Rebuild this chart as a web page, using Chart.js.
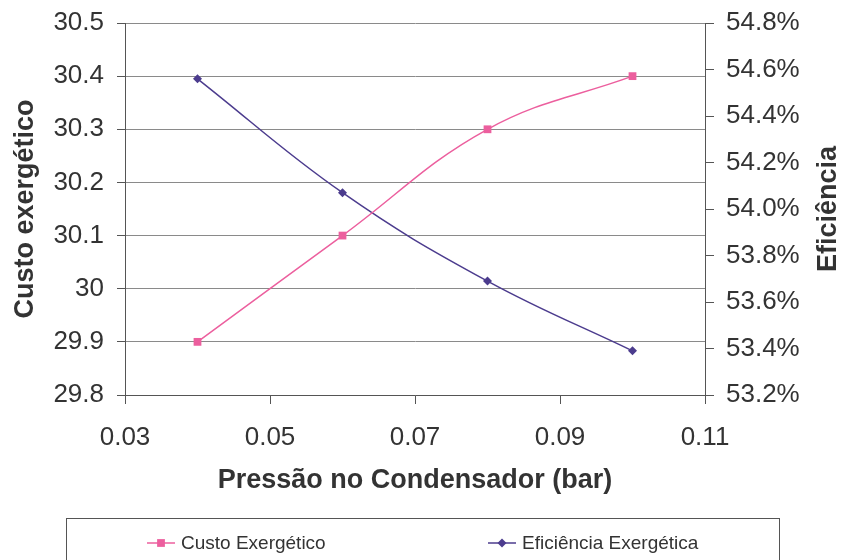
<!DOCTYPE html>
<html>
<head>
<meta charset="utf-8">
<script src="https://cdn.jsdelivr.net/npm/chart.js@4/dist/chart.umd.min.js"></script>
<style>
  html, body { margin: 0; padding: 0; background: #fff; }
  #wrap { width: 842px; height: 560px; position: relative; }
</style>
</head>
<body>
<div id="wrap"><canvas id="c" width="842" height="560"></canvas></div>
<script>
// ---- data ----
const pressure = [0.04, 0.06, 0.08, 0.10];
const custoExergetico = [29.9, 30.1, 30.3, 30.4];
const eficienciaExergetica = [54.56, 54.07, 53.69, 53.39]; // percent
const seriesLabels = ['Custo Exergético', 'Eficiência Exergética'];
const xTitle = 'Pressão no Condensador (bar)';
const yLeftTitle = 'Custo exergético';
const yRightTitle = 'Eficiência';

const PINK = '#ec5f9e';
const PURPLE = '#4c3c8e';
const TEXT = '#333333';
const AXIS = '#555555';
const FONT = "'Liberation Sans', Arial, sans-serif";

const toPts = (ys) => ys.map((y, i) => ({ x: pressure[i], y }));

const extras = {
  id: 'extras',
  afterDraw(chart) {
    const ctx = chart.ctx;
    const area = chart.chartArea;
    ctx.save();
    // right axis title (reads bottom-to-top)
    ctx.fillStyle = TEXT;
    ctx.font = "bold 27px " + FONT;
    ctx.textAlign = 'center';
    ctx.textBaseline = 'middle';
    ctx.translate(829, (area.top + area.bottom) / 2);
    ctx.rotate(-Math.PI / 2);
    ctx.fillText(yRightTitle, 0, 0);
    ctx.restore();

    // legend box
    ctx.save();
    ctx.strokeStyle = AXIS;
    ctx.lineWidth = 1;
    ctx.strokeRect(66.5, 518.5, 713, 50);
    const items = [
      { ds: chart.data.datasets[0], x0: 147, textX: 181 },
      { ds: chart.data.datasets[1], x0: 488, textX: 522 }
    ];
    const y = 543;
    items.forEach(it => {
      ctx.strokeStyle = it.ds.borderColor;
      ctx.lineWidth = 1.5;
      ctx.beginPath();
      ctx.moveTo(it.x0, y);
      ctx.lineTo(it.x0 + 28, y);
      ctx.stroke();
      ctx.fillStyle = it.ds.borderColor;
      ctx.beginPath();
      if (it.ds.pointStyle === 'rect') {
        const s = it.ds.pointRadius * Math.SQRT1_2;
        ctx.rect(it.x0 + 14 - s, y - s, 2 * s, 2 * s);
      } else {
        const r = it.ds.pointRadius;
        ctx.moveTo(it.x0 + 14, y - r);
        ctx.lineTo(it.x0 + 14 + r, y);
        ctx.lineTo(it.x0 + 14, y + r);
        ctx.lineTo(it.x0 + 14 - r, y);
        ctx.closePath();
      }
      ctx.fill();
      ctx.fillStyle = TEXT;
      ctx.font = "19px " + FONT;
      ctx.textAlign = 'left';
      ctx.textBaseline = 'middle';
      ctx.fillText(it.ds.label, it.textX, y + 1);
    });
    ctx.restore();
  }
};

const noVPad = (w) => (s) => { s.width = w; s.paddingTop = 0; s.paddingBottom = 0; };

new Chart(document.getElementById('c'), {
  type: 'line',
  data: {
    datasets: [
      {
        label: seriesLabels[0],
        data: toPts(custoExergetico),
        yAxisID: 'y',
        borderColor: PINK,
        backgroundColor: PINK,
        borderWidth: 1.5,
        pointStyle: 'rect',
        pointRadius: 5.5,
        pointBorderWidth: 0,
        tension: 0.4,
        fill: false
      },
      {
        label: seriesLabels[1],
        data: toPts(eficienciaExergetica),
        yAxisID: 'y1',
        borderColor: PURPLE,
        backgroundColor: PURPLE,
        borderWidth: 1.5,
        pointStyle: 'rectRot',
        pointRadius: 4.5,
        pointBorderWidth: 0,
        tension: 0.4,
        fill: false
      }
    ]
  },
  options: {
    responsive: false,
    animation: false,
    devicePixelRatio: 1,
    layout: { padding: { left: 0, right: 0, top: 23, bottom: 63 } },
    plugins: { legend: { display: false }, tooltip: { enabled: false } },
    scales: {
      x: {
        type: 'linear',
        min: 0.03, max: 0.11,
        ticks: {
          stepSize: 0.02,
          color: TEXT,
          font: { family: FONT, size: 26 },
          padding: 18,
          maxRotation: 0,
          callback: v => Number(v).toFixed(2)
        },
        grid: { drawOnChartArea: false, drawTicks: true, tickLength: 9, tickColor: AXIS },
        border: { display: true, color: AXIS },
        title: {
          display: true, text: xTitle, color: TEXT,
          font: { family: FONT, size: 27, weight: 'bold' },
          padding: { top: 0, bottom: 0 }
        },
        afterFit: s => { s.height = 102; }
      },
      y: {
        position: 'left',
        min: 29.8, max: 30.5,
        ticks: {
          stepSize: 0.1,
          color: TEXT,
          font: { family: FONT, size: 26 },
          padding: 13,
          callback: v => String(Number(Number(v).toFixed(1)))
        },
        grid: { color: '#8a8a8a', drawTicks: true, tickLength: 8, tickColor: AXIS },
        border: { display: true, color: AXIS },
        title: {
          display: true, text: yLeftTitle, color: TEXT,
          font: { family: FONT, size: 27, weight: 'bold' },
          padding: { top: 9, bottom: 0 }
        },
        afterFit: noVPad(125)
      },
      y1: {
        position: 'right',
        min: 53.2, max: 54.8,
        ticks: {
          stepSize: 0.2,
          color: TEXT,
          font: { family: FONT, size: 26 },
          padding: 12,
          callback: v => Number(v).toFixed(1) + '%'
        },
        grid: { drawOnChartArea: false, drawTicks: true, tickLength: 9, tickColor: AXIS },
        border: { display: true, color: AXIS },
        afterFit: noVPad(137)
      }
    }
  },
  plugins: [extras]
});
</script>
</body>
</html>
